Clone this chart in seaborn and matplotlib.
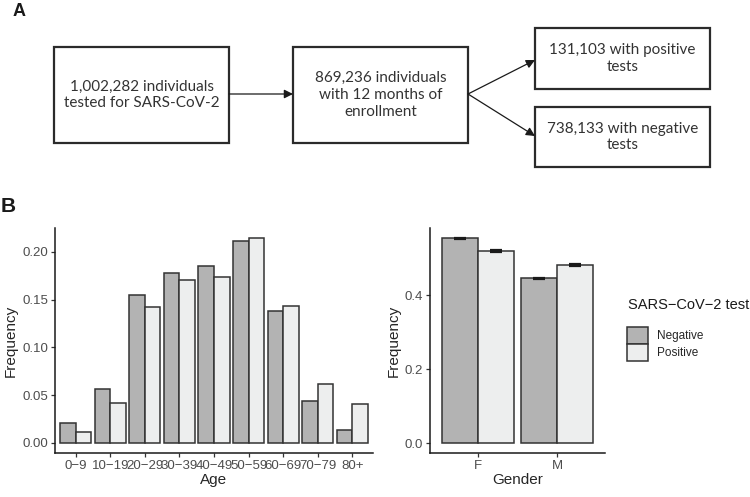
import matplotlib
matplotlib.use("Agg")
import matplotlib.pyplot as plt
from matplotlib.patches import Rectangle
import seaborn as sns
import pandas as pd
import numpy as np

# ---------------- data ----------------
age_groups = ["0\u22129", "10\u221219", "20\u221229", "30\u221239", "40\u221249",
              "50\u221259", "60\u221269", "70\u221279", "80+"]
age_negative = [0.0207, 0.0560, 0.1545, 0.1776, 0.1850, 0.2110, 0.1380, 0.0438, 0.0137]
age_positive = [0.0112, 0.0420, 0.1420, 0.1706, 0.1740, 0.2144, 0.1433, 0.0613, 0.0406]

genders = ["F", "M"]
gender_negative = [0.554, 0.446]
gender_positive = [0.520, 0.481]
gender_negative_err = [0.001, 0.001]
gender_positive_err = [0.003, 0.003]

test_levels = ["Negative", "Positive"]
fill_colors = ["#B3B3B3", "#EDEEEE"]

flow_texts = ["1,002,282 individuals\ntested for SARS-CoV-2",
              "869,236 individuals\nwith 12 months of\nenrollment",
              "131,103 with positive\ntests",
              "738,133 with negative\ntests"]

# ---------------- setup ----------------
sns.set_theme(style="ticks")
plt.rcParams["font.family"] = ["Liberation Sans", "DejaVu Sans"]
W, H = 750, 497
fig = plt.figure(figsize=(W / 100, H / 100), dpi=100)

def fx(px):
    return px / W

def fy(py):
    return 1 - py / H

# ---------------- panel A (flow chart) ----------------
axA = fig.add_axes([0, 0, 1, 1])
axA.set_xlim(0, W)
axA.set_ylim(H, 0)
axA.axis("off")
boxes = [(54, 47, 229, 143), (293, 47, 468, 143), (535, 28, 710, 89), (535, 107, 710, 167)]
for (x0, y0, x1, y1), txt in zip(boxes, flow_texts):
    axA.add_patch(Rectangle((x0, y0), x1 - x0, y1 - y0, fill=False,
                            edgecolor="#2b2b2b", lw=1.6))
    axA.text((x0 + x1) / 2, (y0 + y1) / 2, txt, ha="center", va="center",
             fontsize=11, family=["Lato", "DejaVu Sans"], color="#333333",
             linespacing=1.25)
arrow_kw = dict(arrowstyle="-|>", color="#1a1a1a", lw=0.9, mutation_scale=13,
                shrinkA=0, shrinkB=0)
axA.annotate("", xy=(293, 94), xytext=(229, 94), arrowprops=arrow_kw)
axA.annotate("", xy=(535, 60), xytext=(468, 94), arrowprops=arrow_kw)
axA.annotate("", xy=(535, 136), xytext=(468, 94), arrowprops=arrow_kw)
fig.text(fx(13), fy(11), "A", fontsize=13, fontweight="bold", ha="left", va="center",
         family=["Liberation Sans", "DejaVu Sans"], color="#1a1a1a")
fig.text(fx(1), fy(206), "B", fontsize=15, fontweight="bold", ha="left", va="center",
         family=["Liberation Sans", "DejaVu Sans"], color="#1a1a1a")

# ---------------- panel B data frames ----------------
df_age = pd.DataFrame({
    "Age": age_groups * 2,
    "Frequency": age_negative + age_positive,
    "SARS\u2212CoV\u22122 test": [test_levels[0]] * len(age_groups) + [test_levels[1]] * len(age_groups),
})
df_gender = pd.DataFrame({
    "Gender": genders * 2,
    "Frequency": gender_negative + gender_positive,
    "SARS\u2212CoV\u22122 test": [test_levels[0]] * 2 + [test_levels[1]] * 2,
})
errs = {test_levels[0]: gender_negative_err, test_levels[1]: gender_positive_err}

ax_bottom = fy(453)
ax_height = (453 - 228) / H
ax1 = fig.add_axes([fx(55), ax_bottom, (373 - 55) / W, ax_height])
ax2 = fig.add_axes([fx(430), ax_bottom, (605 - 430) / W, ax_height])

bar_kw = dict(hue="SARS\u2212CoV\u22122 test", hue_order=test_levels,
              palette=fill_colors, width=0.9, gap=0, errorbar=None,
              edgecolor="#333333", linewidth=1.1, saturation=1)
sns.barplot(data=df_age, x="Age", y="Frequency", order=age_groups, ax=ax1, **bar_kw)
sns.barplot(data=df_gender, x="Gender", y="Frequency", order=genders, ax=ax2, **bar_kw)

for cont, lvl in zip(ax2.containers, test_levels):
    xs = [b.get_x() + b.get_width() / 2 for b in cont]
    ys = [b.get_height() for b in cont]
    ax2.errorbar(xs, ys, yerr=errs[lvl], fmt="none", ecolor="#1a1a1a",
                 elinewidth=1.6, capsize=4, capthick=1.6, zorder=5)

ax1.set_xlim(-0.6, len(age_groups) - 0.4)
ax1.set_ylim(-0.0105, 0.2249)
ax1.set_yticks([0.0, 0.05, 0.10, 0.15, 0.20])
ax1.set_yticklabels(["0.00", "0.05", "0.10", "0.15", "0.20"])
ax2.set_xlim(-0.6, 1.6)
ax2.set_ylim(-0.027, 0.582)
ax2.set_yticks([0.0, 0.2, 0.4])
ax2.set_yticklabels(["0.0", "0.2", "0.4"])

for ax in (ax1, ax2):
    sns.despine(ax=ax)
    ax.spines["left"].set_linewidth(1.1)
    ax.spines["bottom"].set_linewidth(1.1)
    ax.spines["left"].set_color("#1a1a1a")
    ax.spines["bottom"].set_color("#1a1a1a")
    ax.tick_params(axis="both", length=3, width=0.9, color="#333333",
                   labelsize=9.5, labelcolor="#4D4D4D", pad=2)
    ax.xaxis.label.set_size(11)
    ax.yaxis.label.set_size(11)
    ax.xaxis.labelpad = 1
    ax.yaxis.labelpad = 3
    ax.set_facecolor("white")

# legend
handles, labels = ax2.get_legend_handles_labels()
if ax1.get_legend():
    ax1.get_legend().remove()
if ax2.get_legend():
    ax2.get_legend().remove()
fig.text(fx(628), fy(305), "SARS\u2212CoV\u22122 test", fontsize=10.5, ha="left",
         va="center", color="#1a1a1a")
leg = fig.legend(handles, labels, loc="upper left",
                 bbox_to_anchor=(fx(627), fy(327)), frameon=False, fontsize=8.5,
                 handlelength=1.8, handleheight=1.85, labelspacing=0.0,
                 handletextpad=0.75, borderpad=0, borderaxespad=0)

fig.savefig("out.png", dpi=100)
